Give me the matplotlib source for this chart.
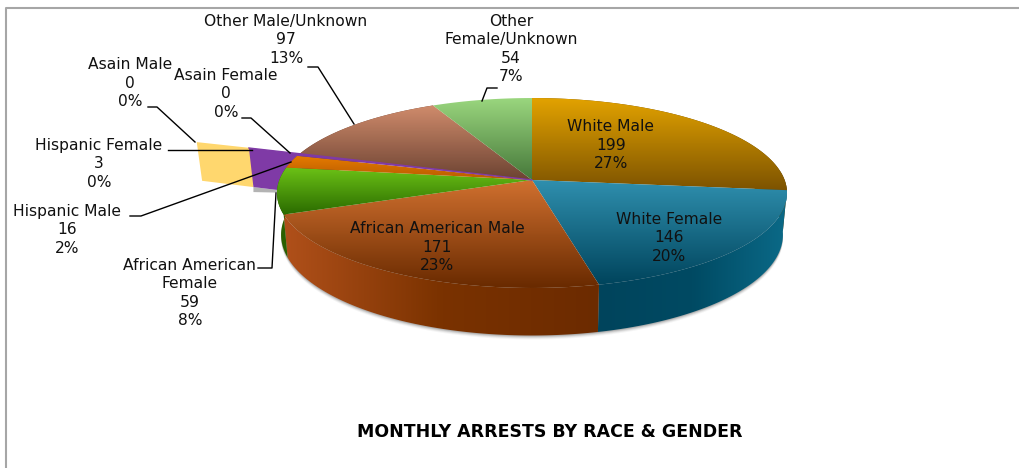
import numpy as np
import matplotlib
matplotlib.use("Agg")
import matplotlib.pyplot as plt
from matplotlib.patches import Polygon
from matplotlib.colors import LinearSegmentedColormap

# data
names = ["White Male", "White Female", "African American Male", "African American\nFemale",
         "Hispanic Male", "Hispanic Female", "Asain Female", "Asain Male",
         "Other Male/Unknown", "Other\nFemale/Unknown"]
values = [199, 146, 171, 59, 16, 3, 0, 0, 97, 54]

# colours, light then dark, top face and side wall
top_colors = [("#e3a300", "#7d5300"), ("#2f8fae", "#00445c"), ("#d0702f", "#692a00"),
              ("#6cc216", "#2a6a00"), ("#e67c00", "#b85a00"), ("#7f3aa6", "#7f3aa6"),
              ("#7f3aa6", "#7f3aa6"), ("#ffd76e", "#ffd76e"), ("#d08c6c", "#6c4232"),
              ("#9ad67e", "#46783a")]
wall_colors = [("#7d5300", "#5e3f00"), ("#00445c", "#004a63", "#0b6a88"), ("#b0501a", "#7a3200", "#6c2b00"),
               ("#2a6000", "#2a6000"), ("#b85a00", "#b85a00"), ("#7f3aa6", "#7f3aa6"),
               ("#7f3aa6", "#7f3aa6"), ("#ffd76e", "#ffd76e"), ("#6c4232", "#6c4232"),
               ("#46783a", "#46783a")]

# label centres and leader lines, in picture pixels
label_pos = [(611, 145), (669, 238), (437, 247), (190, 293), (67, 230),
             (99, 164), (226, 94), (130, 83), (286, 40), (511, 49)]
leaders = [[(258, 268), (272, 268), (276, 193)],
           [(130, 216), (141, 216), (291, 162)],
           [(168, 150), (252, 150)],
           [(242, 118), (251, 118), (290, 153)],
           [(148, 107), (157, 107), (195, 142)],
           [(308, 67), (318, 67), (354, 124)],
           [(482, 101), (487, 88), (497, 88)]]

CX, CY = 532, 180
RX, RY = 252.6, 93.2
PERSP = 0.137
DEPTH = 41


def project(theta, r=1.0, z=0.0):
    # theta clockwise from the top, z=1 is the bottom of the pie
    u = r * np.sin(theta)
    v = r * np.cos(theta)
    k = 1 + PERSP * v
    x = CX + RX * u / k * (1 - 0.016 * z)
    y = CY - RY * v / k + z * DEPTH / k
    return np.column_stack([x, y])


def fill_gradient(ax, pts, colors, vertical=True, zorder=2):
    # gradient image clipped to the polygon
    patch = Polygon(pts, closed=True, fc="none", ec="none", zorder=zorder)
    ax.add_patch(patch)
    cmap = LinearSegmentedColormap.from_list("g", colors)
    grad = np.linspace(0, 1, 128).reshape(-1, 1) if vertical else np.linspace(0, 1, 128).reshape(1, -1)
    x0, y0 = pts.min(axis=0)
    x1, y1 = pts.max(axis=0)
    im = ax.imshow(grad, cmap=cmap, extent=[x0, x1, y1, y0], aspect="auto", zorder=zorder,
                   interpolation="bilinear")
    im.set_clip_path(patch)


fig = plt.figure(figsize=(10.19, 4.68), dpi=100)
ax = fig.add_axes([0, 0, 1, 1])
ax.set_axis_off()

total = sum(values)
edges = np.cumsum([0] + values) / total * 2 * np.pi

# frame
ax.plot([6, 6, 1019], [468, 8, 8], color="#a6a6a6", lw=1.5, zorder=1)

# the empty slices show only as cut faces pulled out of the pie
zero = edges[6]
a = project(np.array([zero]), 1.0)[0]
b = project(np.array([zero]), 1.23)[0]
c = project(np.array([zero]), 1.47)[0]
b2 = project(np.array([zero]), 1.23, 1)[0]
c2 = project(np.array([zero]), 1.47, 1)[0]
a2 = project(np.array([zero]), 1.0, 1)[0]
ax.add_patch(Polygon([b + [2, 0], c, c2, b2], fc="#ffd76e", ec="none", zorder=2))
ax.add_patch(Polygon([a2 + [-0.5, 0], b2 + [0, 5], b2], fc="#a0a0a0", ec="none", alpha=0.8, zorder=2))
ax.add_patch(Polygon([a, b, b2, a2], fc="#7f3aa6", ec="none", zorder=2.1))

# soft shadow under the front of the pie
front = np.linspace(np.pi * 0.47, np.pi * 1.55, 200)
for grow, alpha in zip([4, 3, 2, 1], [0.06, 0.10, 0.16, 0.24]):
    rim = project(front, 1.0)
    low = project(front, 1.0, 1) + [0, grow]
    ax.add_patch(Polygon(np.vstack([rim, low[::-1]]), fc="#555555", ec="none", alpha=alpha, zorder=2.2))

# side walls first, top faces over them
for i in range(len(values)):
    t0, t1 = edges[i], edges[i + 1]
    if t1 - t0 < 1e-6:
        continue
    th = np.linspace(t0, t1, 80)
    if np.cos(th).min() > 0.45:
        continue
    wall = np.vstack([project(th), project(th, 1.0, 1)[::-1]])
    fill_gradient(ax, wall, wall_colors[i], vertical=False, zorder=2.5)

for i in range(len(values)):
    t0, t1 = edges[i], edges[i + 1]
    if t1 - t0 < 1e-6:
        continue
    th = np.linspace(t0, t1, 80)
    face = np.vstack([[[CX, CY]], project(th)])
    fill_gradient(ax, face, top_colors[i], zorder=3)

# thin purple edge of the hispanic female slice
ax.plot([CX, b[0]], [CY, b[1]], color="#7f3aa6", lw=1.0, zorder=3.5)

# leaders and labels
for pts in leaders:
    xs, ys = zip(*pts)
    ax.plot(xs, ys, color="black", lw=1.0, zorder=4)

for name, val, pos in zip(names, values, label_pos):
    pct = round(val / total * 100)
    ax.text(pos[0], pos[1], f"{name}\n{val}\n{pct}%", ha="center", va="center",
            family="DejaVu Sans", fontsize=11.2, linespacing=1.26, color="#111111", zorder=5)

ax.text(550, 432, "MONTHLY ARRESTS BY RACE & GENDER", ha="center", va="center",
        family="DejaVu Sans", fontsize=12.5, fontweight="bold", color="black", zorder=5)

ax.set_xlim(0, 1019)
ax.set_ylim(468, 0)
fig.savefig("out.png", dpi=100)
